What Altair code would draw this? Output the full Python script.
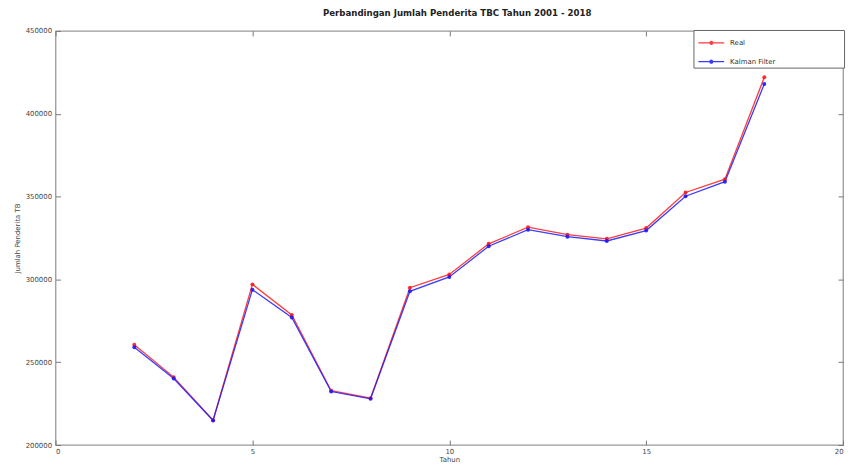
import altair as alt
import pandas as pd

tahun = list(range(2, 19))
real = [260500, 241000, 215000, 297000, 278500, 232800, 228300, 295000, 303000,
        321500, 331500, 327000, 324500, 331000, 352500, 360500, 422000]
kalman = [259000, 240200, 214800, 293800, 277000, 232300, 227900, 292800, 301500,
          320000, 330000, 325800, 323200, 329500, 350200, 359000, 418000]
x_ticks = [0, 5, 10, 15, 20]
y_ticks = [200000, 250000, 300000, 350000, 400000, 450000]

df = pd.DataFrame({
    "Tahun": tahun * 2,
    "Jumlah": real + kalman,
    "Seri": ["Real"] * len(tahun) + ["Kalman Filter"] * len(tahun),
})

W, H = 795, 418
xs = alt.Scale(domain=[0, 20], nice=False, zero=False)
ys = alt.Scale(domain=[200000, 450000], nice=False, zero=False)
cscale = alt.Scale(domain=["Real", "Kalman Filter"], range=["#ff1a1a", "#1a1aff"])
pad = "\u00a0" * 30 + "\u200b"
color = alt.Color(
    "Seri:N",
    scale=cscale,
    legend=alt.Legend(
        title=None, orient="none", legendX=644, legendY=-1, direction="vertical",
        strokeColor="#666", fillColor="white", padding=2,
        symbolType="M-1.3,0H1.3M-0.15,0A0.15,0.15,0,1,1,0.15,0A0.15,0.15,0,1,1,-0.15,0",
        symbolSize=400, symbolStrokeWidth=1.2,
        labelFont="DejaVu Sans", labelFontSize=7, labelColor="#333",
        rowPadding=4, symbolOffset=5, labelOffset=8, labelLimit=300,
        labelExpr="datum.label + '" + pad + "'",
    ),
)

axis_text = dict(labelFont="DejaVu Sans", labelFontSize=7, labelColor="#444",
                 titleFont="DejaVu Sans", titleFontSize=7, titleColor="#444",
                 titleFontWeight="normal", tickColor="#777", tickWidth=1)

x_bottom = alt.X("Tahun:Q", scale=xs, title="Tahun",
                 axis=alt.Axis(values=x_ticks, orient="bottom", offset=-5, tickSize=5,
                               domain=False, grid=False, labelPadding=3, format="d",
                               titlePadding=1, **axis_text))
y_left = alt.Y("Jumlah:Q", scale=ys, title="Jumlah Penderita TB",
               axis=alt.Axis(values=y_ticks, orient="left", offset=-5, tickSize=5,
                             domain=False, grid=False, labelPadding=4, format="d",
                             titlePadding=5, **axis_text))

base = alt.Chart(df)

lines = base.mark_line(strokeWidth=1.3, opacity=0.85).encode(
    x=x_bottom, y=y_left, color=color, order=alt.Order("Tahun:Q"),
    detail="Seri:N",
)
points = base.mark_point(filled=True, size=16, opacity=0.9).encode(
    x=alt.X("Tahun:Q", scale=xs,
            axis=alt.Axis(values=x_ticks, orient="top", offset=-5, tickSize=5,
                          domain=False, grid=False, labels=False, title=None,
                          tickColor="#777")),
    y=alt.Y("Jumlah:Q", scale=ys,
            axis=alt.Axis(values=y_ticks, orient="right", offset=-5, tickSize=5,
                          domain=False, grid=False, labels=False, title=None,
                          tickColor="#777")),
    color=alt.Color("Seri:N", scale=cscale, legend=None),
)

chart = alt.layer(lines, points).resolve_axis(x="independent", y="independent").properties(
    width=W, height=H,
    background="white",
    title=alt.TitleParams("Perbandingan Jumlah Penderita TBC Tahun 2001 - 2018",
                          font="DejaVu Sans", fontSize=8.7, fontWeight="bold",
                          color="#222", offset=9, anchor="middle", dx=8),
    autosize=alt.AutoSizeParams(type="none"),
    padding={"left": 48, "top": 21, "right": 5, "bottom": 21},
).configure_view(stroke="#999", strokeWidth=1.3)

chart.save("out.html", embed_options={"renderer": "svg", "actions": False})
